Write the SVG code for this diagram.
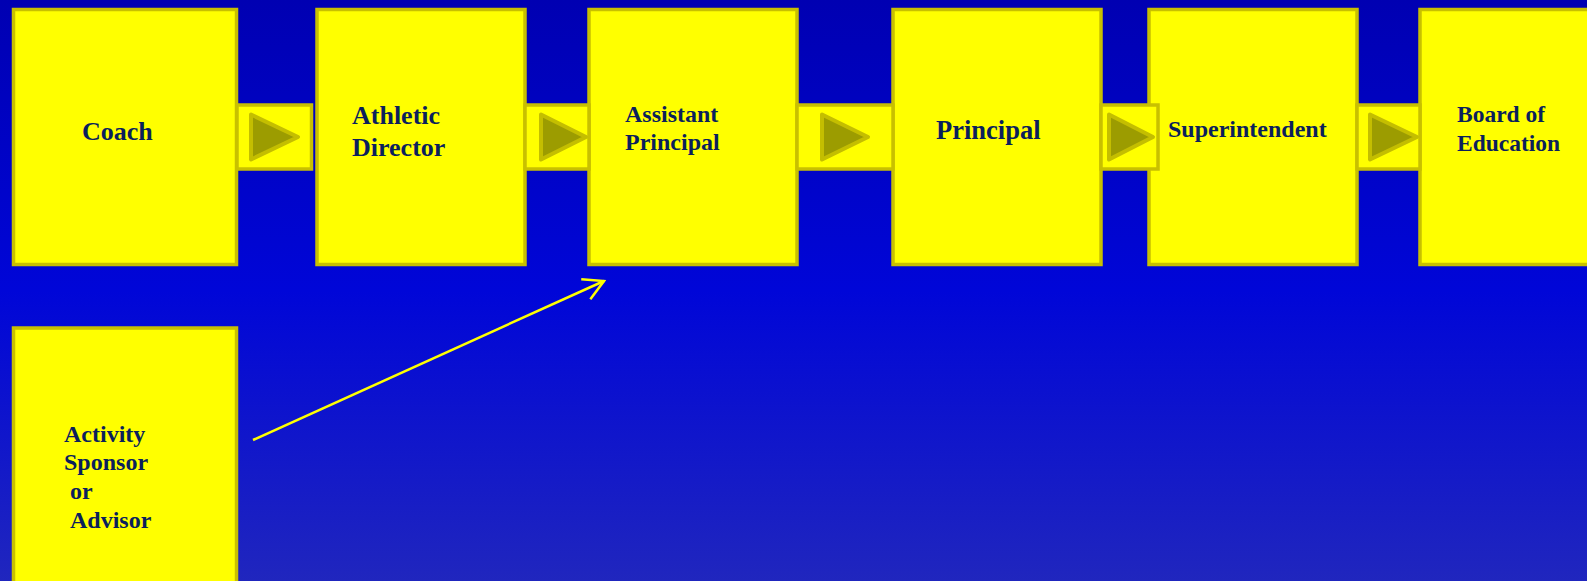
<svg xmlns="http://www.w3.org/2000/svg" width="1587" height="581" viewBox="0 0 1587 581">
<style>
.box{fill:#FFFF00;stroke:#C8C000;stroke-width:3.5}
.cbox{fill:#FFFF00;stroke:#C8C000;stroke-width:3.5}
.tri{fill:#9C9C00;stroke:#C4BE00;stroke-width:4;stroke-linejoin:round}
.t{font-family:"Liberation Serif","Times New Roman",serif;font-weight:bold;fill:#0B1F5C}
</style>
<defs>
<linearGradient id="bg" x1="0" y1="0" x2="0" y2="1">
<stop offset="0" stop-color="#0000B2"/>
<stop offset="0.5" stop-color="#0006D8"/>
<stop offset="1" stop-color="#2026BE"/>
</linearGradient>
<marker id="open" viewBox="0 0 24 24" refX="22" refY="12" markerWidth="24" markerHeight="24" markerUnits="userSpaceOnUse" orient="auto">
<path d="M2,1 L22,12 L2,23" fill="none" stroke="#FFFF00" stroke-width="2.5"/>
</marker>
</defs>
<rect x="0" y="0" width="1587" height="581" fill="url(#bg)"/>
<g id="node-coach"><rect class="box" x="13.5" y="9.5" width="223" height="255"/><text class="t" x="82" y="140" font-size="26">Coach</text></g>
<g id="node-athletic-director"><rect class="box" x="317" y="9.5" width="208" height="255"/><text class="t" font-size="26"><tspan x="352" y="124">Athletic</tspan><tspan x="352" y="156">Director</tspan></text></g>
<g id="node-assistant-principal"><rect class="box" x="589" y="9.5" width="208" height="255"/><text class="t" font-size="24"><tspan x="625" y="122">Assistant</tspan><tspan x="625" y="150">Principal</tspan></text></g>
<g id="node-principal"><rect class="box" x="893" y="9.5" width="208" height="255"/><text class="t" x="936" y="139" font-size="26.5">Principal</text></g>
<g id="node-superintendent"><rect class="box" x="1149" y="9.5" width="208" height="255"/><text class="t" x="1168" y="137" font-size="24">Superintendent</text></g>
<g id="node-board"><rect class="box" x="1420" y="9.5" width="220" height="255"/><text class="t" font-size="23.5"><tspan x="1457" y="122">Board of</tspan><tspan x="1457" y="151">Education</tspan></text></g>
<g id="node-activity"><rect class="box" x="13.5" y="328" width="223" height="270"/><text class="t" font-size="24"><tspan x="64" y="442">Activity</tspan><tspan x="64" y="470">Sponsor</tspan><tspan x="70" y="499">or</tspan><tspan x="70" y="528">Advisor</tspan></text></g>
<g id="connectors">
<rect class="cbox" x="237" y="105" width="74.5" height="64"/>
<polygon class="tri" points="251,114.5 298,137 251,159.5"/>
<rect class="cbox" x="525" y="105" width="64" height="64"/>
<polygon class="tri" points="541,114.5 586,137 541,159.5"/>
<rect class="cbox" x="797" y="105" width="96" height="64"/>
<polygon class="tri" points="822,114.5 868,137 822,159.5"/>
<rect class="cbox" x="1101" y="105" width="57" height="64"/>
<polygon class="tri" points="1109,114.5 1153,137 1109,159.5"/>
<rect class="cbox" x="1357" y="105" width="63" height="64"/>
<polygon class="tri" points="1370,114.5 1417,137 1370,159.5"/>
<line x1="253" y1="440" x2="604" y2="281" stroke="#FFFF00" stroke-width="2.5" marker-end="url(#open)"/>
</g>
</svg>
